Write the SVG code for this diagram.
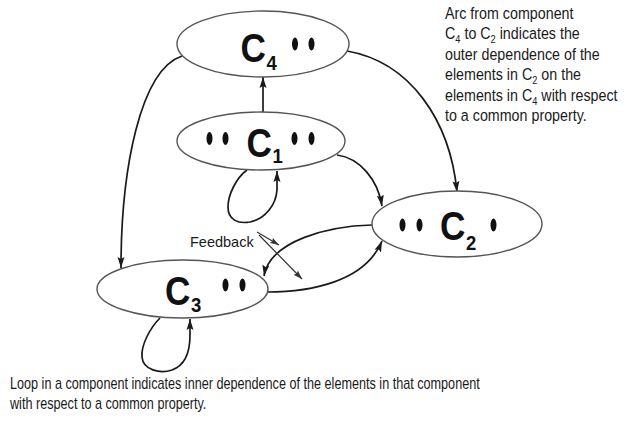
<svg xmlns="http://www.w3.org/2000/svg" width="633" height="421" viewBox="0 0 633 421">
  <style>
    .comp { fill: #ffffff; stroke: #555555; stroke-width: 1.4; }
    .dot { fill: #111111; }
    .big { font-family: "Liberation Sans", Arial, sans-serif; font-weight: bold; fill: #111111; }
    .cname { font-size: 40px; }
    .csub { font-size: 21px; }
    .arc { fill: none; stroke: #1a1a1a; stroke-width: 1.7; marker-end: url(#head); }
    .thin { fill: none; stroke: #333333; stroke-width: 1.2; marker-end: url(#headSmall); }
    .note { font-family: "Liberation Sans", Arial, sans-serif; fill: #1a1a1a; }
  </style>
  <defs>
    <marker id="head" markerUnits="userSpaceOnUse" markerWidth="12" markerHeight="8" refX="11" refY="4" orient="auto">
      <path d="M0,0.5 L11,4 L0,7.5 L2,4 z" fill="#1a1a1a"/>
    </marker>
    <marker id="headSmall" markerUnits="userSpaceOnUse" markerWidth="10" markerHeight="7" refX="9" refY="3.5" orient="auto">
      <path d="M0,0.5 L9,3.5 L0,6.5 L1.5,3.5 z" fill="#333333"/>
    </marker>
  </defs>

  <rect width="633" height="421" fill="#ffffff"/>

  <!-- connectors -->
  <g id="connectors">
    <!-- C1 up to C4 -->
    <path class="arc" d="M263,112 L263,77"/>
    <!-- C4 to C3 -->
    <path class="arc" d="M182,56 C140,70 121,170 121,268"/>
    <!-- C4 to C2 -->
    <path class="arc" d="M347,51 C410,62 450,120 457,192"/>
    <!-- C1 to C2 -->
    <path class="arc" d="M337,155 C360,158 378,180 382,206"/>
    <!-- C2 back to C3 (feedback) -->
    <path class="arc" d="M372,225 C330,226 270,240 264,276"/>
    <!-- C3 to C2 -->
    <path class="arc" d="M267,292 C310,292 365,282 382,241"/>
    <!-- loop on C1 -->
    <path class="arc" d="M247,170 C236,178 228,195 228,207 C228,220 238,224 250,222 C265,219 276,205 277,190 L277,171"/>
    <!-- loop on C3 -->
    <path class="arc" d="M160,318 C150,328 141,345 142,357 C143,370 160,374 172,370 C186,365 190,350 190,335 L190,319"/>
    <!-- feedback pointers -->
    <path class="thin" d="M257,232 L279,245"/>
    <path class="thin" d="M259,235 L302,279"/>
  </g>

  <!-- component C4 -->
  <g id="c4">
    <ellipse class="comp" cx="263" cy="44" rx="86" ry="33"/>
    <text class="big cname" transform="translate(240.5,62) scale(0.88,1)">C</text>
    <text class="big csub" transform="translate(266.5,70) scale(0.88,1)">4</text>
    <ellipse class="dot" cx="295" cy="44" rx="3" ry="6.5"/>
    <ellipse class="dot" cx="311.5" cy="44" rx="3" ry="6.5"/>
  </g>

  <!-- component C1 -->
  <g id="c1">
    <ellipse class="comp" cx="261" cy="141" rx="84" ry="29"/>
    <ellipse class="dot" cx="209.5" cy="138.5" rx="3" ry="6.5"/>
    <ellipse class="dot" cx="225.5" cy="138.5" rx="3" ry="6.5"/>
    <text class="big cname" transform="translate(246.5,157) scale(0.88,1)">C</text>
    <text class="big csub" transform="translate(272.5,163) scale(0.88,1)">1</text>
    <ellipse class="dot" cx="294.5" cy="138.5" rx="3" ry="6.5"/>
    <ellipse class="dot" cx="311.5" cy="138.5" rx="3" ry="6.5"/>
  </g>

  <!-- component C2 -->
  <g id="c2">
    <ellipse class="comp" cx="457" cy="224" rx="85" ry="33"/>
    <ellipse class="dot" cx="402.5" cy="225" rx="3" ry="6.5"/>
    <ellipse class="dot" cx="419.5" cy="225" rx="3" ry="6.5"/>
    <text class="big cname" transform="translate(440,240) scale(0.88,1)">C</text>
    <text class="big csub" transform="translate(466,250) scale(0.88,1)">2</text>
    <ellipse class="dot" cx="493.5" cy="225" rx="3" ry="6.5"/>
  </g>

  <!-- component C3 -->
  <g id="c3">
    <ellipse class="comp" cx="182.5" cy="289" rx="85.5" ry="29"/>
    <text class="big cname" transform="translate(165,305) scale(0.88,1)">C</text>
    <text class="big csub" transform="translate(191,312) scale(0.88,1)">3</text>
    <ellipse class="dot" cx="225.5" cy="285" rx="3" ry="6.5"/>
    <ellipse class="dot" cx="242.5" cy="285" rx="3" ry="6.5"/>
  </g>

  <!-- feedback label -->
  <g id="feedback-label">
    <text class="note" x="190" y="247" font-size="14.5">Feedback</text>
  </g>

  <!-- note on outer dependence -->
  <g id="note-outer" transform="translate(445,0) scale(0.84,1)">
    <text class="note" font-size="17">
      <tspan x="0" y="19">Arc from component</tspan>
      <tspan x="0" y="39.5">C</tspan><tspan font-size="11" dy="4">4</tspan><tspan dy="-4"> to C</tspan><tspan font-size="11" dy="4">2</tspan><tspan dy="-4"> indicates the</tspan>
      <tspan x="0" y="60">outer dependence of the</tspan>
      <tspan x="0" y="80.5">elements in C</tspan><tspan font-size="11" dy="4">2</tspan><tspan dy="-4"> on the</tspan>
      <tspan x="0" y="101">elements in C</tspan><tspan font-size="11" dy="4">4</tspan><tspan dy="-4"> with respect</tspan>
      <tspan x="0" y="121.5">to a common property.</tspan>
    </text>
  </g>

  <!-- note on inner dependence -->
  <g id="note-inner" transform="translate(10,0) scale(0.79,1)">
    <text class="note" font-size="16">
      <tspan x="0" y="389">Loop in a component indicates inner dependence of the elements in that component</tspan>
      <tspan x="0" y="409">with respect to a common property.</tspan>
    </text>
  </g>
</svg>
